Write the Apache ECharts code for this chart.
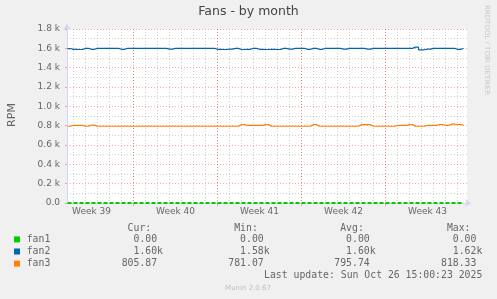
<!DOCTYPE html>
<html><head><meta charset="utf-8">
<script src="https://cdn.jsdelivr.net/npm/echarts@6/dist/echarts.min.js"></script>
<style>html,body{margin:0;padding:0;background:#f0f0f0}#c{width:497px;height:299px}</style>
</head><body><div id="c"></div>
<script>
// x unit: hours since Mon 2025-09-22 00:00
const xMin = 35, xMax = 835;
const sampleStartHour = 36, sampleStepHours = 12;
const dayLines = [24,48,72,96,120,144,168,192,216,240,264,288,312,336,360,384,408,432,456,480,504,528,552,576,600,624,648,672,696,720,744,768,792,816];
const weekLines = [168,336,504,672];
const weekLabelPos = [84,252,420,588,756];
const weekLabels = ['Week 39','Week 40','Week 41','Week 42','Week 43'];
const yTickValues = [0,200,400,600,800,1000,1200,1400,1600,1800];
const yTickLabels = ['0.0','0.2 k','0.4 k','0.6 k','0.8 k','1.0 k','1.2 k','1.4 k','1.6 k','1.8 k'];

const fan1 = [0,0,0,0,0,0,0,0,0,0, 0,0,0,0,0,0,0,0,0,0, 0,0,0,0,0,0,0,0,0,0, 0,0,0,0,0,0,0,0,0,0, 0,0,0,0,0,0,0,0,0,0, 0,0,0,0,0,0,0,0,0,0, 0,0,0,0,0,0,0];
const fan2 = [1598,1590,1588,1600,1590,1600,1600,1600,1600,1590,
              1600,1600,1600,1600,1600,1600,1600,1592,1600,1600,
              1600,1600,1600,1600,1600,1590,1588,1592,1600,1588,
              1590,1600,1590,1588,1590,1588,1600,1592,1600,1600,
              1590,1600,1590,1600,1600,1600,1592,1600,1600,1600,
              1592,1600,1600,1600,1600,1600,1600,1600,1612,1585,
              1592,1600,1600,1600,1600,1590,1598];
const fan3 = [794,804,803,794,806,794,794,794,794,794,
              794,794,794,794,794,794,794,794,794,794,
              794,794,794,794,794,794,794,794,794,812,
              803,803,803,812,794,794,794,794,794,794,
              794,812,794,794,794,794,794,794,794,810,
              810,794,794,794,794,803,803,812,794,794,
              803,803,812,803,815,812,806];

const seriesNames = ['fan1','fan2','fan3'];
const seriesColors = ['#00cc00','#0066b3','#ff8000'];
const curVals = ['0.00','1.60k','805.87'];
const minVals = ['0.00','1.58k','781.07'];
const avgVals = ['0.00','1.60k','795.74'];
const maxVals = ['0.00','1.62k','818.33'];
const colHeaders = ['Cur:','Min:','Avg:','Max:'];
const lastUpdate = 'Last update: Sun Oct 26 15:00:23 2025';
const titleText = 'Fans - by month';
const yName = 'RPM';
const sideText = 'RRDTOOL / TOBI OETIKER';
const footer = 'Munin 2.0.67';

function pairs(arr){ return arr.map((v,i)=>[sampleStartHour + i*sampleStepHours, v]); }

const AX = '#CFD6F8';
const FONT = '#666666';
const MONO = 'DejaVu Sans Mono';
const cw = 5.9;
const colStart = [121.7, 228.3, 334.3, 441];
const rowY = [239.4, 251.5, 263.6];

const graphic = [];
graphic.push({type:'text', left:'center', top:5, style:{text:titleText, font:'12.5px "DejaVu Sans"', fill:'#444'}});
graphic.push({type:'text', x:12, y:115, rotation:Math.PI/2, style:{text:yName, font:'11px "DejaVu Sans"', fill:FONT, align:'center', verticalAlign:'middle'}});
graphic.push({type:'text', x:487, y:5, rotation:-Math.PI/2, style:{text:sideText, font:'7px "DejaVu Sans"', fill:'#c8c8c8', align:'left', verticalAlign:'middle'}});
colHeaders.forEach((h,j)=>{
  graphic.push({type:'text', x:colStart[j]+cw, y:228.3, style:{text:h, font:'9.8px "'+MONO+'"', fill:FONT, align:'left', verticalAlign:'middle'}});
});
const cols = [curVals, minVals, avgVals, maxVals];
seriesNames.forEach((n,i)=>{
  graphic.push({type:'rect', shape:{x:14, y:rowY[i]-3, width:6, height:6}, style:{fill:seriesColors[i]}});
  graphic.push({type:'text', x:26.7, y:rowY[i], style:{text:n, font:'9.8px "'+MONO+'"', fill:FONT, align:'left', verticalAlign:'middle'}});
  cols.forEach((c,j)=>{
    const s = c[i];
    const numLen = s.replace('k','').length;
    graphic.push({type:'text', x:colStart[j] + (6-numLen)*cw, y:rowY[i], style:{text:s, font:'9.8px "'+MONO+'"', fill:FONT, align:'left', verticalAlign:'middle'}});
  });
});
graphic.push({type:'text', x:482.3, y:275.7, style:{text:lastUpdate, font:'9.8px "'+MONO+'"', fill:FONT, align:'right', verticalAlign:'middle'}});
graphic.push({type:'text', x:248, y:288, style:{text:footer, font:'7px "DejaVu Sans"', fill:'#c0c0c0', align:'center', verticalAlign:'middle'}});

const chart = echarts.init(document.getElementById('c'), null, {renderer:'canvas'});
chart.setOption({
  backgroundColor:'#f0f0f0',
  animation:false,
  grid:{left:67, right:30, top:29, bottom:96, show:true, backgroundColor:'#ffffff', borderWidth:0},
  xAxis:[
    {type:'value', min:xMin, max:xMax, position:'bottom',
     axisLine:{show:true, lineStyle:{color:AX, width:1}, symbol:['none','arrow'], symbolSize:[6,6], symbolOffset:[0,4]},
     axisTick:{show:false, customValues:dayLines},
     axisLabel:{show:false},
     splitLine:{show:true, lineStyle:{color:'rgba(120,120,120,0.35)', type:[1,2], width:1}}},
    {type:'value', min:xMin, max:xMax, position:'bottom',
     axisLine:{show:false},
     axisTick:{show:true, customValues:weekLines, length:3, lineStyle:{color:'rgba(255,0,0,0.35)'}},
     axisLabel:{show:false},
     splitLine:{show:true, lineStyle:{color:'rgba(255,0,0,0.35)', type:[1,2], width:1}}},
    {type:'value', min:xMin, max:xMax, position:'bottom',
     axisLine:{show:false}, axisTick:{show:false}, splitLine:{show:false},
     axisLabel:{show:true, customValues:weekLabelPos, margin:4, color:FONT, fontFamily:'DejaVu Sans', fontSize:9,
       formatter:(v)=>weekLabels[weekLabelPos.indexOf(v)]}}
  ],
  yAxis:{type:'value', min:0, max:1800, interval:200,
    axisLine:{show:true, lineStyle:{color:AX}, symbol:['none','arrow'], symbolSize:[6,6], symbolOffset:[0,5]},
    axisTick:{show:true, length:2, lineStyle:{color:'rgba(255,0,0,0.35)'}},
    axisLabel:{color:FONT, fontFamily:'DejaVu Sans', fontSize:9, margin:7,
      formatter:(v)=>yTickLabels[yTickValues.indexOf(v)]},
    splitLine:{show:true, lineStyle:{color:'rgba(255,0,0,0.35)', type:[1,2]}},
    minorTick:{show:false, splitNumber:2},
    minorSplitLine:{show:true, lineStyle:{color:'rgba(120,120,120,0.35)', type:[1,2]}}
  },
  graphic: graphic,
  series:[
    {name:'fan1', type:'line', xAxisIndex:0, data:pairs(fan1), showSymbol:false, symbol:'none', step:'middle',
     lineStyle:{color:seriesColors[0], width:2, type:[4,2]}, z:5},
    {name:'fan2', type:'line', xAxisIndex:0, data:pairs(fan2), showSymbol:false, symbol:'none', step:'middle',
     lineStyle:{color:seriesColors[1], width:1.2}, z:4},
    {name:'fan3', type:'line', xAxisIndex:0, data:pairs(fan3), showSymbol:false, symbol:'none', step:'middle',
     lineStyle:{color:seriesColors[2], width:1.2}, z:4}
  ]
});
</script></body></html>
